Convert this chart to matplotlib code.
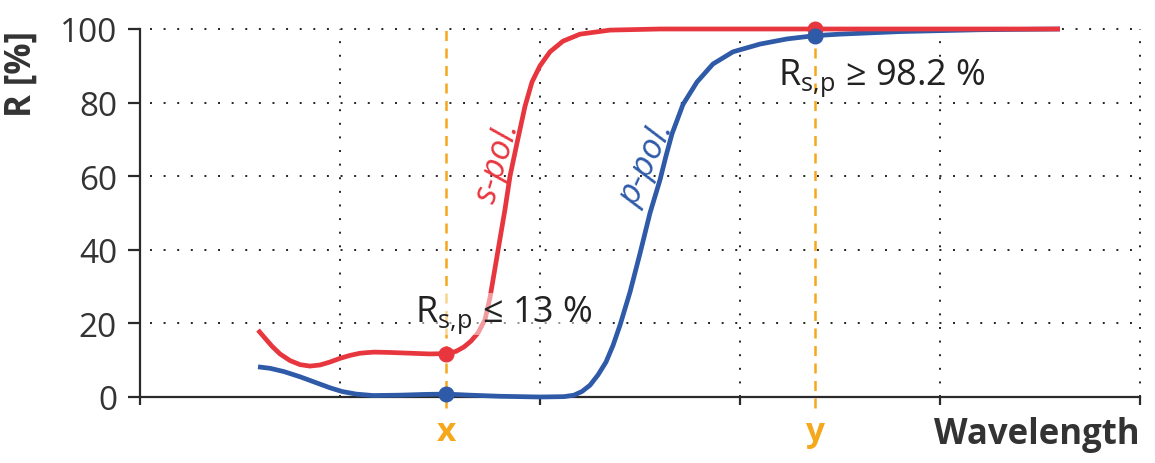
import matplotlib
matplotlib.use('Agg')
import matplotlib.pyplot as plt

plt.rcParams['font.family'] = ['Open Sans', 'DejaVu Sans']

# s-polarisation (red) and p-polarisation (blue)
s_wl = [0.59, 0.62, 0.66, 0.70, 0.75, 0.80, 0.85, 0.90, 0.95, 1.0, 1.05, 1.1,
        1.17, 1.25, 1.35, 1.45, 1.53, 1.58, 1.62, 1.655, 1.69, 1.725, 1.75,
        1.775, 1.8, 1.825, 1.85, 1.885, 1.925, 1.96, 2.0, 2.05, 2.115, 2.2,
        2.35, 2.6, 3.0, 3.375, 4.6]
s_R = [18.2, 16.3, 13.8, 11.7, 9.9, 8.8, 8.4, 8.7, 9.5, 10.5, 11.3, 11.9,
       12.2, 12.1, 11.9, 11.7, 11.8, 12.4, 13.6, 15.2, 17.4, 21.0, 27.0,
       35.0, 43.0, 51.0, 60.0, 69.0, 79.0, 85.6, 90.0, 93.8, 96.7, 98.6,
       99.7, 100.0, 100.0, 100.0, 100.0]

p_wl = [0.59, 0.65, 0.72, 0.80, 0.88, 0.95, 1.01, 1.08, 1.165, 1.3, 1.42, 1.53,
        1.65, 1.8, 2.0, 2.12, 2.17, 2.21, 2.25, 2.29, 2.33, 2.365, 2.4, 2.45,
        2.5, 2.55, 2.6, 2.63, 2.66, 2.715, 2.785, 2.865, 2.965, 3.1, 3.235,
        3.375, 3.5, 3.8, 4.2, 4.6]
p_R = [8.2, 7.8, 6.9, 5.5, 3.9, 2.5, 1.5, 0.8, 0.4, 0.5, 0.7, 0.8,
       0.5, 0.2, 0.0, 0.1, 0.5, 1.5, 3.2, 6.0, 9.5, 14.0, 19.5, 28.5,
       39.0, 50.0, 59.0, 65.5, 71.5, 79.5, 85.6, 90.5, 93.8, 95.9, 97.3,
       98.2, 98.6, 99.3, 99.8, 100.0]

# marked wavelengths x and y
mark_wl = [1.53, 3.375]
mark_names = ['x', 'y']
s_mark = [11.8, 100.0]
p_mark = [0.8, 98.2]

yticks = [0, 20, 40, 60, 80, 100]
xticks = [0, 2, 3, 4, 5]
xgrid = [1, 2, 3, 4, 5]

red = '#e8363f'
blue = '#2f5aa8'
orange = '#f5a81c'
dark = '#333333'

fig = plt.figure(figsize=(11.55, 4.64), dpi=100)
ax = fig.add_axes([140/1155, 66/464, 1000/1155, 368/464])
ax.set_xlim(0, 5)
ax.set_ylim(0, 100)

# dotted grid
for g in yticks[1:]:
    ax.plot([0.05, 5], [g, g], color='#222222', lw=1.4, ls=(0, (1, 6)), zorder=1, clip_on=False)
for g in xgrid:
    ax.plot([g, g], [0, 100], color='#222222', lw=1.4, ls=(0, (1, 6)), zorder=1, clip_on=False)

# orange marker lines
for w in mark_wl:
    ax.plot([w, w], [-3, 100], color=orange, lw=1.8, ls=(0, (4, 3)), zorder=2, clip_on=False)

ax.plot(p_wl, p_R, color=blue, lw=3.4, solid_capstyle='butt', solid_joinstyle='round',
        zorder=3, clip_on=False)
ax.plot(s_wl, s_R, color=red, lw=3.4, solid_capstyle='butt', solid_joinstyle='round',
        zorder=4, clip_on=False)
ax.plot(mark_wl, s_mark, 'o', color=red, ms=10.5, zorder=5, clip_on=False)
ax.plot(mark_wl, p_mark, 'o', color=blue, ms=10.5, zorder=6, clip_on=False)

# spines and ticks
for side in ['top', 'right']:
    ax.spines[side].set_visible(False)
for side in ['left', 'bottom']:
    ax.spines[side].set_linewidth(1.6)
    ax.spines[side].set_color('#2a2a2a')
ax.set_yticks(yticks)
ax.set_xticks(xticks)
ax.set_xticklabels([])
ax.tick_params(axis='y', length=8.5, width=1.6, color='#2a2a2a', pad=8,
               labelsize=24, labelcolor=dark)
ax.tick_params(axis='x', length=6, width=1.6, color='#2a2a2a')

# labels
fig.text(22/1155, 1 - 74/464, 'R [%]', rotation=90, ha='center', va='center',
         fontsize=25, fontweight='bold', color=dark)
fig.text(1140/1155, 1 - 444/464, 'Wavelength', ha='right', va='baseline',
         fontsize=25, fontweight='bold', color=dark)
for w, name in zip(mark_wl, mark_names):
    ax.text(w, -9.5, name, ha='center', va='center', fontsize=24,
            fontweight='bold', color=orange, clip_on=False)

ax.text(1.375, 20.7, r'R$_\mathregular{s{,}p}$ ≤ 13 %', ha='left', va='baseline',
        fontsize=26, color='#222222', zorder=7,
        bbox=dict(facecolor='white', edgecolor='none', alpha=0.5, pad=0))
ax.text(3.19, 85.1, r'R$_\mathregular{s{,}p}$ ≥ 98.2 %', ha='left', va='baseline',
        fontsize=26, color='#222222', zorder=7)

ax.text(1.79, 64, 's-pol.', rotation=73, ha='center', va='center',
        fontsize=25, fontstyle='italic', color=red)
ax.text(2.535, 63.5, 'p-pol.', rotation=65, ha='center', va='center',
        fontsize=25, fontstyle='italic', color=blue)

fig.savefig('out.png', dpi=100)
